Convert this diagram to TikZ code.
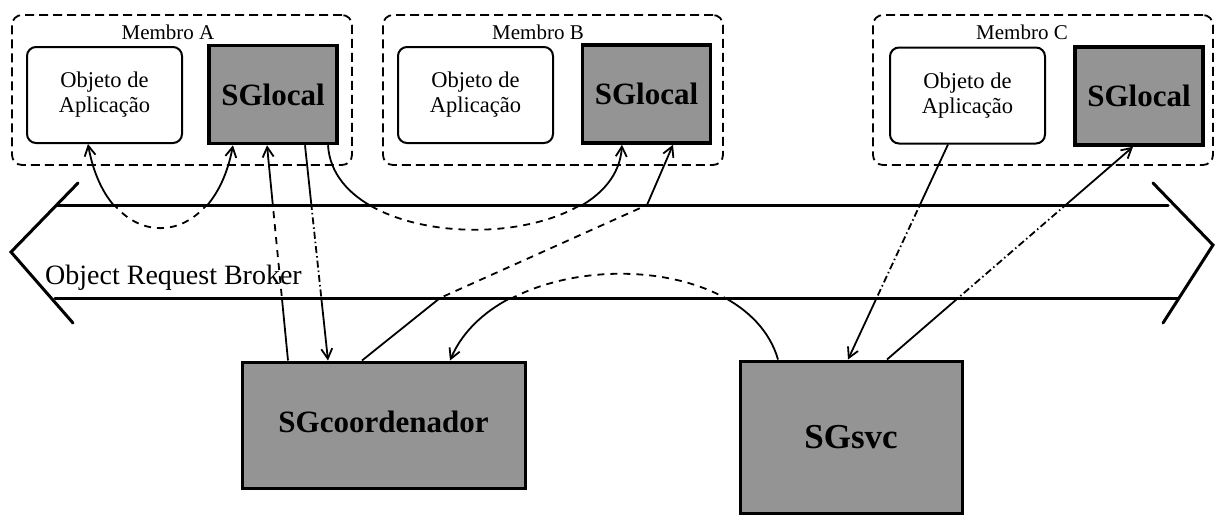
\documentclass[tikz,border=0pt]{standalone}
\usepackage{fontspec}
\setmainfont{Liberation Serif}
\usetikzlibrary{arrows.meta}
\newcommand\orblinks{%
  \draw[conn,lnd,tipB] ([xshift=-16.5pt]objA.south) .. controls (108,256) and (212,256) .. ([xshift=-40pt]sgA.south);
  \draw[conn,lnd,tipE] ([xshift=-95.5pt]sgco.north) -- ([xshift=-6pt]sgA.south);
  \draw[conn,lndd,tipE] ([xshift=32pt]sgA.south) -- ([xshift=-55.5pt]sgco.north);
  \draw[conn,lnd,tipE] ([xshift=55pt]sgA.south) .. controls (335,258) and (615,258) .. ([xshift=-24.5pt]sgB.south);
  \draw[conn,lnd,tipE] ([xshift=-21.5pt]sgco.north) -- (b1) -- (b2) -- ([xshift=26.5pt]sgB.south);
  \draw[conn,lnd,tipE] ([xshift=-73pt]svc.north) .. controls (745,245) and (499,245) .. ([xshift=66.5pt]sgco.north);
  \draw[conn,lndd,tipE] ([xshift=-19.5pt]objC.south) -- ([xshift=-3pt]svc.north);
  \draw[conn,lndd,tipE] ([xshift=36pt]svc.north) -- ([xshift=-6pt]sgC.south);
}
\begin{document}
\begin{tikzpicture}[x=1pt,y=-1pt,
  member/.style={draw, line width=1.8pt, dash pattern=on 9pt off 5pt, rounded corners=10pt, minimum width=340pt, minimum height=150pt, inner sep=0pt},
  objbox/.style={draw, line width=2pt, rounded corners=9pt, minimum width=155pt, minimum height=96pt, align=center, font=\fontsize{22.5}{25}\selectfont, inner sep=0pt},
  sgbox/.style={draw, line width=3.5pt, fill=black!42, minimum width=128pt, minimum height=98pt, font=\bfseries\fontsize{31}{31}\selectfont, inner sep=0pt},
  bigbox/.style={draw, line width=3pt, fill=black!42, inner sep=0pt},
  lbl/.style={font=\fontsize{21}{21}\selectfont, inner sep=0pt},
  orb/.style={line width=3pt, line cap=round, line join=miter},
  conn/.style={line width=1.8pt, line join=round},
  barb/.tip={Straight Barb[length=10pt,width=11pt]}
]
\useasboundingbox (0,0) rectangle (1215,515);

% Object Request Broker band
\draw[orb] (56,205) -- (1168,205);
\draw[orb] (55,298) -- (1178,298);
\draw[orb] (78,183) -- (11,252) -- (73,323);
\draw[orb] (1153,183) -- (1213,245) -- (1163,323);
\node[anchor=base west, inner sep=0pt, font=\fontsize{28}{28}\selectfont] (orbl) at (45,284) {Object Request Broker};

% members
\node[member] (memA) at (182,90) {};
\node[member] (memB) at (553,90) {};
\node[member] (memC) at (1043,90) {};
\node[lbl] (labA) at (168,32) {Membro A};
\node[lbl] (labB) at (538,32) {Membro B};
\node[lbl] (labC) at (1022,32) {Membro C};

\node[objbox] (objA) at (104.5,95) {Objeto de\\Aplicação};
\node[objbox] (objB) at (475.5,95) {Objeto de\\Aplicação};
\node[objbox] (objC) at (967.5,95.5) {Objeto de\\Aplicação};

\node[sgbox] (sgA) at (273,94.5) {SGlocal};
\node[sgbox] (sgB) at (646.5,94) {SGlocal};
\node[sgbox] (sgC) at (1139,96) {SGlocal};

\node[bigbox, minimum width=283pt, minimum height=126pt, font=\bfseries\fontsize{31}{31}\selectfont] (sgco) at (383.5,425) {\raisebox{7pt}{SGcoordenador}};
\node[bigbox, minimum width=222pt, minimum height=152pt, font=\bfseries\fontsize{35}{35}\selectfont] (svc) at (851,437) {SGsvc};

\coordinate (b1) at (440,298);
\coordinate (b2) at (647,205);

% connectors: solid outside the band
\begin{scope}
  \tikzset{lnd/.style={solid}, lndd/.style={solid}, tipE/.style={-barb}, tipB/.style={barb-barb}}
  \clip (-10,-10) rectangle (1225,205) (-10,298) rectangle (1225,525);
  \orblinks
\end{scope}
% connectors: dashed inside the band
\begin{scope}
  \tikzset{lnd/.style={dash pattern=on 7pt off 6pt}, lndd/.style={dash pattern=on 7pt off 3pt on 1.5pt off 3pt}, tipE/.style={}, tipB/.style={}}
  \clip (-10,205) rectangle (1225,298);
  \orblinks
\end{scope}
\end{tikzpicture}
\end{document}
